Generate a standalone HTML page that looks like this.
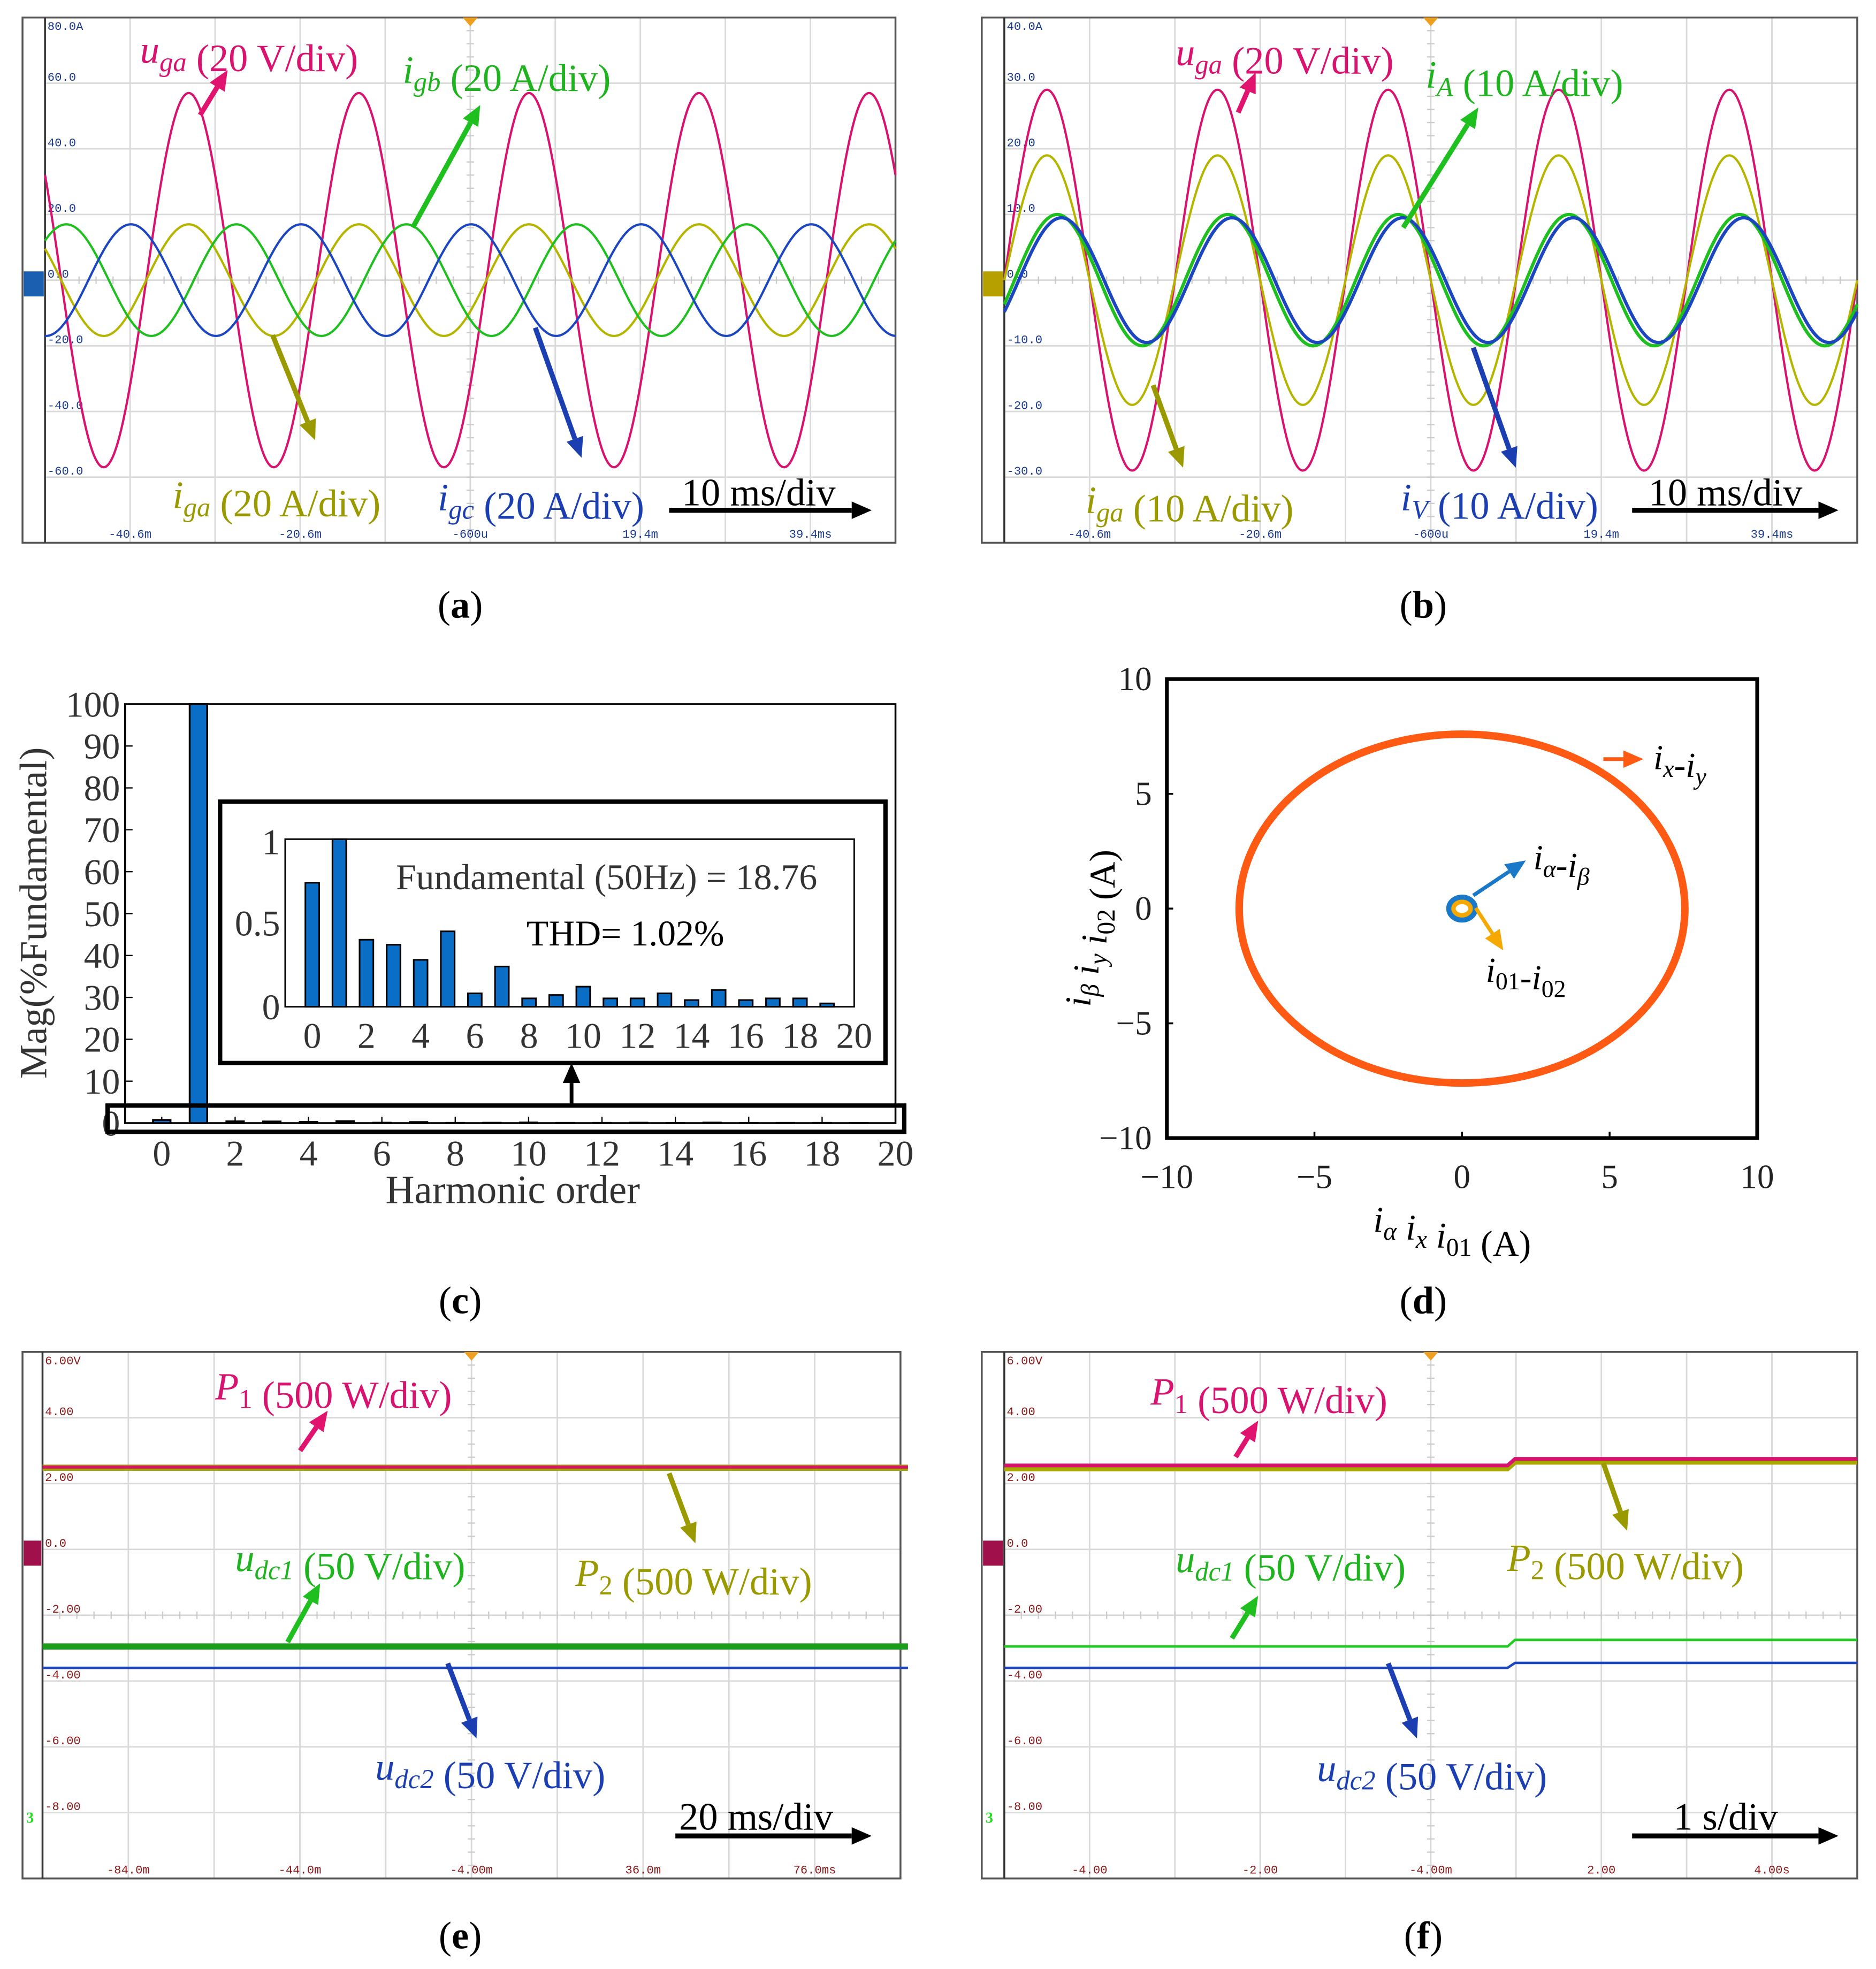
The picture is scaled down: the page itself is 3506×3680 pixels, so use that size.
<!DOCTYPE html>
<html><head><meta charset="utf-8">
<style>
html,body{margin:0;padding:0;background:#fff;}
svg{display:block;}
text{font-family:"Liberation Serif",serif;}
.sm{font-family:"Liberation Mono",monospace;font-size:9.5px;}
</style></head>
<body>
<svg id="root" xmlns="http://www.w3.org/2000/svg" width="3506" height="3680" viewBox="0 0 1500 1574.4" preserveAspectRatio="none">
<g id="g"></g>
</svg>
<script>
// ---------- data ----------
const aNames=["uga","iga","igb","igc"];
const aAmps=[57,17,17,17];
const aPeakMs=[-33.7,-33.7,-48.1,-40.5];
const aColors=["#d8136f","#b5b500","#1fbf1f","#1b46c0"];
const aYTicks=["80.0A","60.0","40.0","20.0","0.0","-20.0","-40.0","-60.0"];
const aXTicks=["-40.6m","-20.6m","-600u","19.4m","39.4ms"];
const bAmps=[29,19,10,9.5];
const bPeakMs=[-45.6,-45.6,-44.4,-43.9];
const bYTicks=["40.0A","30.0","20.0","10.0","0.0","-10.0","-20.0","-30.0"];
const cOrders=[0,1,2,3,4,5,6,7,8,9,10,11,12,13,14,15,16,17,18,19];
const cMags=[0.74,100,0.40,0.37,0.28,0.45,0.08,0.24,0.05,0.07,0.12,0.05,0.05,0.08,0.04,0.10,0.04,0.05,0.05,0.02];
const cYTicks=[0,10,20,30,40,50,60,70,80,90,100];
const cXTicks=[0,2,4,6,8,10,12,14,16,18,20];
const cInsetY=[0,0.5,1];
const dRadX=[7.55,0.45,0.3];
const dRadY=[7.6,0.5,0.3];
const dTicks=[-10,-5,0,5,10];
const eLevels=[2.5,2.48,-2.95,-3.6];
const eYTicks=["6.00V","4.00","2.00","0.0","-2.00","-4.00","-6.00","-8.00"];
const eXTicks=["-84.0m","-44.0m","-4.00m","36.0m","76.0ms"];
const fBefore=[2.55,2.45,-2.95,-3.6];
const fAfter=[2.75,2.65,-2.75,-3.45];
const fStepS=0.9;
const fXTicks=["-4.00","-2.00","-4.00m","2.00","4.00s"];

// ---------- helpers ----------
const NS="http://www.w3.org/2000/svg";
const G=document.getElementById('g');
const LS=31;
function mk(tag,attrs,parent){const e=document.createElementNS(NS,tag);for(const k in attrs)e.setAttribute(k,attrs[k]);(parent||G).appendChild(e);return e;}
function txt(x,y,s,attrs,parent){const e=mk('text',Object.assign({x:x,y:y},attrs||{}),parent);e.textContent=s;return e;}
function arrow(x1,y1,x2,y2,col,w,name){
  const g=mk('g',{});
  
  
  const a=Math.atan2(y2-y1,x2-x1),L=16,W=7;
  const bx=x2-L*Math.cos(a),by=y2-L*Math.sin(a);
  mk('line',{x1:x1,y1:y1,x2:bx,y2:by,stroke:col,'stroke-width':w},g);
  mk('path',{d:`M${x2},${y2} L${bx+W*Math.sin(a)},${by-W*Math.cos(a)} L${bx-W*Math.sin(a)},${by+W*Math.cos(a)} Z`,fill:col},g);
}
function rich(x,y,parts,col,size,name){
  const t=mk('text',{x:x,y:y,fill:col,'font-size':size});
  
  
  for(const p of parts){const s=document.createElementNS(NS,'tspan');
    if(p[1].includes('i'))s.setAttribute('font-style','italic');
    if(p[1].includes('s')){s.setAttribute('font-size',size*0.7);s.setAttribute('dy',size*0.22);}
    s.textContent=p[0];t.appendChild(s);
    if(p[1].includes('s')){const r=document.createElementNS(NS,'tspan');r.setAttribute('dy',-size*0.22);r.textContent='';t.appendChild(r);}
  }
  return t;
}
function scope(x0,y0,x1,y1,ax,name,yt,xt,lblCol,markCol,gmDiv,greenDiv){
  const g=mk('g',{});
  
  
  const dx=(x1-ax)/10,dy=(y1-y0)/8;
  for(let i=1;i<10;i++)mk('line',{x1:ax+i*dx,y1:y0,x2:ax+i*dx,y2:y1,stroke:'#d9d9d9','stroke-width':1.2},g);
  for(let j=1;j<8;j++)mk('line',{x1:ax,y1:y0+j*dy,x2:x1,y2:y0+j*dy,stroke:'#d9d9d9','stroke-width':1.2},g);
  for(let k=0;k<50;k++){const xx=ax+k*dx/5;mk('line',{x1:xx,y1:y0+4*dy-3,x2:xx,y2:y0+4*dy+3,stroke:'#ccc','stroke-width':1},g);}
  for(let k=0;k<40;k++){const yy=y0+k*dy/5;mk('line',{x1:ax+5*dx-3,y1:yy,x2:ax+5*dx+3,y2:yy,stroke:'#ccc','stroke-width':1},g);}
  mk('rect',{x:x0,y:y0,width:x1-x0,height:y1-y0,fill:'none',stroke:'#555','stroke-width':1.5},g);
  mk('line',{x1:ax,y1:y0,x2:ax,y2:y1,stroke:'#333','stroke-width':1.5},g);
  yt.forEach((s,j)=>{const t=txt(ax+2,y0+j*dy+(j==0?10:-2),s,{class:'sm',fill:lblCol},g);});
  xt.forEach((s,i)=>{const t=txt(ax+dx*(1+2*i),y1-4,s,{class:'sm',fill:lblCol,'text-anchor':'middle'},g);});
  const gm=mk('rect',{x:x0+1,y:y0+gmDiv*dy-7,width:ax-x0-2,height:20,fill:markCol},g);
  
  if(greenDiv){const t=txt(x0+3,y0+greenDiv*dy+8,'3',{'font-size':12,fill:'#22dd22','font-weight':'bold'},g);}
  const tr=mk('path',{d:`M${ax+5*dx-6},${y0} L${ax+5*dx+6},${y0} L${ax+5*dx},${y0+7} Z`,fill:'#f0a020'},g);
  
  return {dx:dx,dy:dy};
}
function sinePath(ax,x1,yc,pxPerUnit,amp,peakMs,msPerDiv,centerMs,dx,col,name,w){
  const pts=[];
  for(let x=ax;x<=x1;x+=1){
    const t=centerMs+(x-(ax+5*dx))/dx*msPerDiv;
    const v=amp*Math.cos(2*Math.PI*(t-peakMs)/20);
    pts.push(x.toFixed(1)+','+(yc-v*pxPerUnit).toFixed(2));
  }
  const p=mk('polyline',{points:pts.join(' '),fill:'none',stroke:col,'stroke-width':w||2});
  
  
}

// ---------- (a) ----------
{
  const ax=36,x1=716,y0=14,y1=434;
  const s=scope(18,y0,x1,y1,ax,'scope-a',aYTicks,aXTicks,'#1a3a90','#1a5fb0',4,0);
  const yc=y0+4*s.dy, ppu=s.dy/20;
  [0,1,2,3].forEach(i=>sinePath(ax,x1,yc,ppu,aAmps[i],aPeakMs[i],10,-0.6,s.dx,aColors[i],'trace-'+aNames[i],1.8));
  rich(112,50,[['u','i'],['ga','si'],[' (20 V/div)','n']],'#d8136f',LS,'label-uga');
  rich(322,66,[['i','i'],['gb','si'],[' (20 A/div)','n']],'#1fb41f',LS,'label-igb');
  rich(138,406,[['i','i'],['ga','si'],[' (20 A/div)','n']],'#9a9a00',LS,'label-iga');
  rich(350,408,[['i','i'],['gc','si'],[' (20 A/div)','n']],'#1b3fb0',LS,'label-igc');
  txt(545,404,'10 ms/div',{'font-size':LS,fill:'#000',});
  arrow(160,92,182,56,'#e0136f',4,'arrow-uga');
  arrow(330,182,384,84,'#1fbf1f',4,'arrow-igb');
  arrow(218,268,252,352,'#9a9a00',4,'arrow-iga');
  arrow(428,262,465,366,'#1b3fb0',4,'arrow-igc');
  arrow(535,408,697,408,'#000',4,'arrow-timebase-a');
}
// ---------- (b) ----------
{
  const ax=803,x1=1485,y0=14,y1=434;
  const s=scope(785,y0,x1,y1,ax,'scope-b',bYTicks,aXTicks,'#1a3a90','#b5a000',4,0);
  const yc=y0+4*s.dy, ppu=s.dy/10;
  const names=["uga","iga","iA","iV"];
  [0,1,2,3].forEach(i=>sinePath(ax,x1,yc,ppu,bAmps[i],bPeakMs[i],10,-0.6,s.dx,aColors[i],'trace-'+names[i],i>=2?2.6:1.8));
  rich(940,52,[['u','i'],['ga','si'],[' (20 V/div)','n']],'#d8136f',LS,'label-uga-b');
  rich(1140,70,[['i','i'],['A','si'],[' (10 A/div)','n']],'#1fb41f',LS,'label-iA');
  rich(868,410,[['i','i'],['ga','si'],[' (10 A/div)','n']],'#9a9a00',LS,'label-iga-b');
  rich(1120,408,[['i','i'],['V','si'],[' (10 A/div)','n']],'#1b3fb0',LS,'label-iV');
  txt(1318,404,'10 ms/div',{'font-size':LS,fill:'#000',});
  arrow(990,90,1004,58,'#e0136f',4,'arrow-uga-b');
  arrow(1122,182,1182,86,'#1fbf1f',4,'arrow-iA');
  arrow(922,308,946,374,'#9a9a00',4,'arrow-iga-b');
  arrow(1178,278,1212,374,'#1b3fb0',4,'arrow-iV');
  arrow(1305,408,1470,408,'#000',4,'arrow-timebase-b');
}
// ---------- (c) ----------
{
  const gx0=100,gx1=716,gy0=563,gy1=898;
  const X=v=>gx0+(v+1)/21*(gx1-gx0), Y=v=>gy1-Math.min(v,100)/100*(gy1-gy0);
  const g=mk('g',{});
  
  
  mk('rect',{x:gx0,y:gy0,width:gx1-gx0,height:gy1-gy0,fill:'none',stroke:'#000','stroke-width':1.5},g);
  cYTicks.forEach(v=>{mk('line',{x1:gx0,y1:Y(v),x2:gx0+6,y2:Y(v),stroke:'#000'},g);
    const t=txt(gx0-4,Y(v)+10,String(v),{'font-size':29,fill:'#333','text-anchor':'end'},g);});
  cXTicks.forEach(v=>{mk('line',{x1:X(v),y1:gy1,x2:X(v),y2:gy1-5,stroke:'#000'},g);
    const t=txt(X(v),gy1+34,String(v),{'font-size':29,fill:'#333','text-anchor':'middle'},g);});
  cOrders.forEach((o,i)=>{const b=mk('rect',{x:X(o)-7,y:Y(cMags[i]),width:14,height:gy1-Y(cMags[i]),fill:'#0b6ec6',stroke:'#000','stroke-width':1.5},g);
    });
  const xl=txt(410,962,'Harmonic order',{'font-size':32,fill:'#333','text-anchor':'middle'},g);
  
  const yl=txt(0,0,'Mag(%Fundamental)',{'font-size':31,fill:'#333','text-anchor':'middle',transform:'translate(37,730) rotate(-90)'},g);
  
  const zr=mk('rect',{x:86,y:884,width:637,height:21,fill:'none',stroke:'#000','stroke-width':3.5},g);
  
  arrow(457,884,457,850,'#000',3,'zoom-arrow');
  const ib=mk('rect',{x:176,y:641,width:532,height:209,fill:'#fff',stroke:'#000','stroke-width':3.5},g);
  
  const ix0=228,ix1=683,iy0=671,iy1=805;
  const IX=v=>ix0+(v+1)/21*(ix1-ix0), IY=v=>iy1-Math.min(v,1)*(iy1-iy0);
  mk('rect',{x:ix0,y:iy0,width:ix1-ix0,height:iy1-iy0,fill:'none',stroke:'#000','stroke-width':1.2},g);
  cInsetY.forEach(v=>{const t=txt(ix0-4,IY(v)+(v==1?12:10),String(v),{'font-size':29,fill:'#333','text-anchor':'end'},g);});
  cXTicks.forEach(v=>{const t=txt(IX(v),iy1+33,String(v),{'font-size':29,fill:'#333','text-anchor':'middle'},g);});
  cOrders.forEach((o,i)=>{const b=mk('rect',{x:IX(o)-5.5,y:IY(cMags[i]),width:11,height:iy1-IY(cMags[i]),fill:'#0b6ec6',stroke:'#000','stroke-width':1.3},g);
    });
  const f1=txt(485,711,'Fundamental (50Hz) = 18.76',{'font-size':29,fill:'#333','text-anchor':'middle'},g);
  
  const f2=txt(500,756,'THD= 1.02%',{'font-size':29,fill:'#000','text-anchor':'middle'},g);
  
}
// ---------- (d) ----------
{
  const gx0=933,gx1=1405,gy0=543,gy1=910;
  const X=v=>gx0+(v+10)/20*(gx1-gx0), Y=v=>gy1-(v+10)/20*(gy1-gy0);
  const g=mk('g',{});
  
  
  mk('rect',{x:gx0,y:gy0,width:gx1-gx0,height:gy1-gy0,fill:'none',stroke:'#000','stroke-width':3},g);
  dTicks.forEach(v=>{
    mk('line',{x1:X(v),y1:gy1,x2:X(v),y2:gy1-5,stroke:'#000','stroke-width':1.5},g);
    mk('line',{x1:gx0,y1:Y(v),x2:gx0+5,y2:Y(v),stroke:'#000','stroke-width':1.5},g);
    const s=v<0?'\u2212'+Math.abs(v):String(v);
    const t1=txt(X(v),gy1+40,s,{'font-size':27,fill:'#222','text-anchor':'middle'},g);
    const t2=txt(gx0-12,Y(v)+9,s,{'font-size':27,fill:'#222','text-anchor':'end'},g);
  });
  const cols=['#ff5a14','#1a78c8','#f5a800'];
  const names=['traj-ix-iy','traj-ialpha-ibeta','traj-i01-i02'];
  [0,2,1].forEach(i=>{
    const e=mk('ellipse',{cx:X(0),cy:Y(0),rx:dRadX[i]*(gx1-gx0)/20,ry:dRadY[i]*(gy1-gy0)/20,fill:'none',stroke:cols[i],'stroke-width':i==0?6:4},g);
    
  });
  arrow(1282,607,1314,607,'#ff5a14',3,'arrow-ix-iy');
  arrow(1178,716,1220,688,'#1a78c8',3,'arrow-ialpha');
  arrow(1180,726,1202,760,'#f5a800',3,'arrow-i01');
  rich(1322,615,[['i','i'],['x','si'],['-','n'],['i','i'],['y','si']],'#000',28,'label-ix-iy');
  rich(1226,695,[['i','i'],['α','si'],['-','n'],['i','i'],['β','si']],'#000',28,'label-ialpha-ibeta');
  rich(1188,785,[['i','i'],['01','s'],['-','n'],['i','i'],['02','s']],'#000',28,'label-i01-i02');
  rich(1098,985,[['i','i'],['α','si'],[' ','n'],['i','i'],['x','si'],[' ','n'],['i','i'],['01','s'],[' (A)','n']],'#000',29,'x-axis-title-d');
  const yt=rich(0,0,[['i','i'],['β','si'],[' ','n'],['i','i'],['y','si'],[' ','n'],['i','i'],['02','s'],[' (A)','n']],'#000',29,'y-axis-title-d');
  yt.setAttribute('transform','translate(872,805) rotate(-90)');
}
// ---------- (e)/(f) ----------
function dcTrace(ax,x1,yc,ppu,before,after,stepX,col,name,w){
  const yb=yc-before*ppu, ya=yc-after*ppu;
  const d=`M${ax},${yb} L${stepX},${yb} L${stepX+6},${ya} L${x1},${ya}`;
  const p=mk('path',{d:d,fill:'none',stroke:col,'stroke-width':w});
  
  
}
{
  const ax=34,x1=720,y0=1081,y1=1502;
  const s=scope(18,y0,x1,y1,ax,'scope-e',eYTicks,eXTicks,'#8b1a1a','#a0104a',3,7);
  const yc=y0+3*s.dy, ppu=s.dy/2;
  dcTrace(ax,x1,yc,ppu,eLevels[1],eLevels[1],x1,'#a8a800','trace-P2',5);
  dcTrace(ax,x1,yc,ppu,eLevels[0],eLevels[0],x1,'#d8136f','trace-P1',2.5);
  dcTrace(ax,x1,yc,ppu,eLevels[2],eLevels[2],x1,'#1a9e1a','trace-udc1',5);
  dcTrace(ax,x1,yc,ppu,eLevels[3],eLevels[3],x1,'#1b46c0','trace-udc2',2);
  rich(172,1119,[['P','i'],['1','s'],[' (500 W/div)','n']],'#d8136f',LS,'label-P1-e');
  rich(188,1256,[['u','i'],['dc1','si'],[' (50 V/div)','n']],'#1fb41f',LS,'label-udc1-e');
  rich(460,1268,[['P','i'],['2','s'],[' (500 W/div)','n']],'#9a9a00',LS,'label-P2-e');
  rich(300,1423,[['u','i'],['dc2','si'],[' (50 V/div)','n']],'#1b3fb0',LS,'label-udc2-e');
  txt(543,1463,'20 ms/div',{'font-size':LS,fill:'#000',});
  arrow(240,1160,262,1128,'#e0136f',4,'arrow-P1-e');
  arrow(535,1178,556,1234,'#9a9a00',4,'arrow-P2-e');
  arrow(230,1313,256,1266,'#1fbf1f',4,'arrow-udc1-e');
  arrow(358,1330,381,1390,'#1b3fb0',4,'arrow-udc2-e');
  arrow(540,1468,697,1468,'#000',4,'arrow-timebase-e');
}
{
  const ax=803,x1=1485,y0=1081,y1=1502;
  const s=scope(785,y0,x1,y1,ax,'scope-f',eYTicks,fXTicks,'#8b1a1a','#a0104a',3,7);
  const yc=y0+3*s.dy, ppu=s.dy/2;
  const stepX=ax+5*s.dx+fStepS*s.dx;
  dcTrace(ax,x1,yc,ppu,fBefore[1],fAfter[1],stepX,'#a8a800','trace-P2-f',4);
  dcTrace(ax,x1,yc,ppu,fBefore[0],fAfter[0],stepX,'#d8136f','trace-P1-f',3);
  dcTrace(ax,x1,yc,ppu,fBefore[2],fAfter[2],stepX,'#22cc22','trace-udc1-f',2);
  dcTrace(ax,x1,yc,ppu,fBefore[3],fAfter[3],stepX,'#1b46c0','trace-udc2-f',2);
  rich(920,1123,[['P','i'],['1','s'],[' (500 W/div)','n']],'#d8136f',LS,'label-P1-f');
  rich(940,1257,[['u','i'],['dc1','si'],[' (50 V/div)','n']],'#1fb41f',LS,'label-udc1-f');
  rich(1205,1256,[['P','i'],['2','s'],[' (500 W/div)','n']],'#9a9a00',LS,'label-P2-f');
  rich(1053,1424,[['u','i'],['dc2','si'],[' (50 V/div)','n']],'#1b3fb0',LS,'label-udc2-f');
  txt(1338,1463,'1 s/div',{'font-size':LS,fill:'#000',});
  arrow(988,1165,1006,1136,'#e0136f',4,'arrow-P1-f');
  arrow(1282,1170,1301,1224,'#9a9a00',4,'arrow-P2-f');
  arrow(985,1310,1006,1276,'#1fbf1f',4,'arrow-udc1-f');
  arrow(1110,1330,1133,1390,'#1b3fb0',4,'arrow-udc2-f');
  arrow(1305,1468,1470,1468,'#000',4,'arrow-timebase-f');
}
// ---------- captions ----------
[['(a)',368,494],['(b)',1138,494],['(c)',368,1050],['(d)',1138,1050],['(e)',368,1558],['(f)',1138,1558]].forEach(c=>{
  const t=mk('text',{x:c[1],y:c[2],'font-size':31,fill:'#000','text-anchor':'middle'});
  
  
  const a=document.createElementNS(NS,'tspan');a.textContent='(';t.appendChild(a);
  const b=document.createElementNS(NS,'tspan');b.setAttribute('font-weight','bold');b.textContent=c[0][1];t.appendChild(b);
  const d=document.createElementNS(NS,'tspan');d.textContent=')';t.appendChild(d);
});
</script>
</body></html>
